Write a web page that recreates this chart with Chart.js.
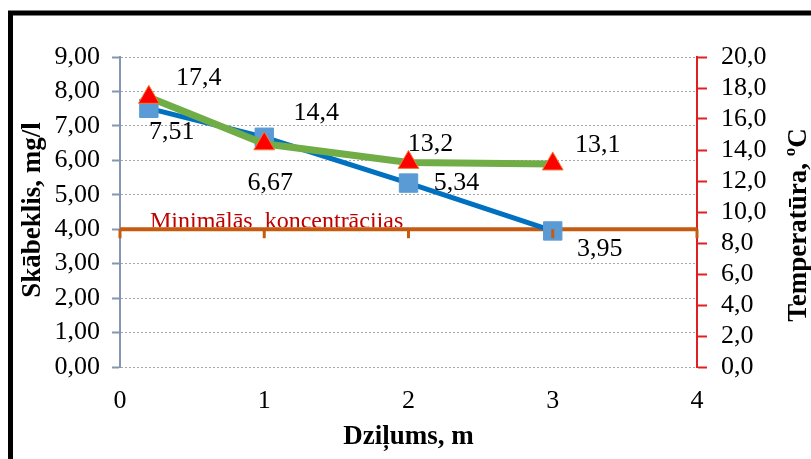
<!DOCTYPE html>
<html><head><meta charset="utf-8">
<script src="https://cdn.jsdelivr.net/npm/chart.js@4/dist/chart.umd.min.js"></script>
<style>html,body{margin:0;padding:0;background:#fff}#wrap{width:811px;height:459px;position:relative}</style>
</head><body><div id="wrap"><canvas id="c" width="811" height="459"></canvas></div>
<script>
// ---- data ----
const depths = [0.2, 1, 2, 3];
const oxygen = [7.51, 6.67, 5.34, 3.95];
const temperature = [17.4, 14.4, 13.2, 13.1];
const minDepths = [0, 1, 2, 3, 4];
const minConcentration = [4, 4, 4, 4, 4];
const leftTickLabels = ['0,00','1,00','2,00','3,00','4,00','5,00','6,00','7,00','8,00','9,00'];
const rightTickLabels = ['0,0','2,0','4,0','6,0','8,0','10,0','12,0','14,0','16,0','18,0','20,0'];
const xTickLabels = ['0','1','2','3','4'];
const oxygenLabels = ['7,51','6,67','5,34','3,95'];
const temperatureLabels = ['17,4','14,4','13,2','13,1'];
const minLabel = 'Minimālās  koncentrācijas';
const xTitle = 'Dziļums, m';
const leftTitle = 'Skābeklis, mg/l';
const rightTitle = 'Temperatūra, ';

// label offsets (style, px)
const oxyOff = [[23,24],[6,46],[48,0],[47,18]];
const tempOff = [[50,-19],[52,-31],[22,-18],[45,-19]];

const SERIF = '"Liberation Serif","Times New Roman",serif';
const F = 26;
const TF = 27;

const toXY = (xs, ys) => xs.map((x, i) => ({x, y: ys[i]}));

const extras = {
  id: 'extras',
  beforeDatasetsDraw(chart) {
    const ctx = chart.ctx, y = chart.scales.y;
    ctx.save();
    const yl = y.getPixelForValue(minConcentration[0]);
    ctx.beginPath(); ctx.rect(0, 0, 811, yl - 2); ctx.clip();
    ctx.fillStyle = '#C00000';
    ctx.font = '24px ' + SERIF;
    ctx.textBaseline = 'alphabetic';
    ctx.textAlign = 'left';
    ctx.fillText(minLabel, 150, yl - 1);
    ctx.restore();
  },
  afterDatasetsDraw(chart) {
    const ctx = chart.ctx, x = chart.scales.x, y = chart.scales.y;
    ctx.save();
    ctx.strokeStyle = '#C55A11'; ctx.lineWidth = 3;
    minDepths.forEach((d, i) => {
      const px = x.getPixelForValue(d), py = y.getPixelForValue(minConcentration[i]);
      ctx.beginPath(); ctx.moveTo(px, py); ctx.lineTo(px, py + 9); ctx.stroke();
    });
    ctx.restore();
  },
  afterDraw(chart) {
    const ctx = chart.ctx, x = chart.scales.x, y = chart.scales.y, y2 = chart.scales.y2;
    ctx.save();
    ctx.fillStyle = '#000';
    ctx.font = F + 'px ' + SERIF;
    ctx.textAlign = 'center'; ctx.textBaseline = 'middle';
    depths.forEach((d, i) => {
      const px = x.getPixelForValue(d);
      ctx.fillText(oxygenLabels[i], px + oxyOff[i][0], y.getPixelForValue(oxygen[i]) + oxyOff[i][1]);
      ctx.fillText(temperatureLabels[i], px + tempOff[i][0], y2.getPixelForValue(temperature[i]) + tempOff[i][1]);
    });
    // titles
    ctx.font = 'bold ' + TF + 'px ' + SERIF;
    ctx.fillText(xTitle, (chart.chartArea.left + chart.chartArea.right) / 2, 437);
    ctx.save();
    ctx.translate(33, 210); ctx.rotate(-Math.PI / 2);
    ctx.fillText(leftTitle, 0, 0);
    ctx.restore();
    ctx.save();
    ctx.translate(799, 225); ctx.rotate(-Math.PI / 2);
    const w1 = ctx.measureText(rightTitle).width;
    ctx.font = 'bold 17px ' + SERIF;
    const w2 = ctx.measureText('o').width;
    ctx.font = 'bold ' + TF + 'px ' + SERIF;
    const w3 = ctx.measureText('C').width;
    const tot = w1 + w2 + w3;
    ctx.textAlign = 'left';
    ctx.fillText(rightTitle, -tot / 2, 0);
    ctx.font = 'bold 17px ' + SERIF;
    ctx.fillText('o', -tot / 2 + w1, -8);
    ctx.font = 'bold ' + TF + 'px ' + SERIF;
    ctx.fillText('C', -tot / 2 + w1 + w2, 0);
    ctx.restore();
    // outer frame
    ctx.strokeStyle = '#000'; ctx.lineWidth = 5;
    ctx.strokeRect(10.5, 13, 900, 600);
    ctx.restore();
  }
};

new Chart(document.getElementById('c'), {
  type: 'scatter',
  data: {
    datasets: [
      {
        label: 'Temperatūra', data: toXY(depths, temperature), yAxisID: 'y2', showLine: true,
        borderColor: '#70AD47', borderWidth: 7, pointStyle: 'triangle', pointRadius: 12,
        pointBackgroundColor: '#FF0000', pointBorderColor: '#ED7D31', pointBorderWidth: 1, order: 1
      },
      {
        label: 'Skābeklis', data: toXY(depths, oxygen), yAxisID: 'y', showLine: true,
        borderColor: '#0070C0', borderWidth: 5, pointStyle: 'rect', pointRadius: 13,
        pointBackgroundColor: '#5B9BD5', pointBorderColor: '#5B9BD5', pointBorderWidth: 1, order: 2
      },
      {
        label: 'Minimālās koncentrācijas', data: toXY(minDepths, minConcentration), yAxisID: 'y', showLine: true,
        borderColor: '#C55A11', borderWidth: 4, pointRadius: 0, order: 3
      }
    ]
  },
  options: {
    responsive: false, animation: false,
    layout: { padding: { top: 57, left: 0, right: 0, bottom: 0 } },
    plugins: { legend: { display: false }, tooltip: { enabled: false } },
    scales: {
      x: {
        type: 'linear', min: 0, max: 4, position: 'bottom',
        afterFit: s => { s.height = 92; },
        grid: { display: true, drawOnChartArea: false, drawTicks: false },
        border: { display: false },
        ticks: { stepSize: 1, padding: 19, autoSkip: false, maxRotation: 0, color: '#000', font: { family: SERIF, size: F },
          callback: (v) => xTickLabels[Math.round(v)] }
      },
      y: {
        position: 'left', min: 0, max: 9,
        afterFit: s => { s.width = 120; },
        grid: { color: '#A6A6A6', lineWidth: 1, tickLength: 8, tickColor: '#8497B0', tickWidth: 2, tickBorderDash: [] },
        border: { display: true, color: '#8497B0', width: 2, dash: [2, 2] },
        ticks: { stepSize: 1, padding: 12, autoSkip: false, color: '#000', font: { family: SERIF, size: F },
          callback: (v) => leftTickLabels[Math.round(v)] }
      },
      y2: {
        position: 'right', min: 0, max: 20,
        afterFit: s => { s.width = 114; },
        grid: { drawOnChartArea: false, tickLength: 10, tickColor: '#E02020', tickWidth: 2 },
        border: { display: true, color: '#E02020', width: 2 },
        ticks: { stepSize: 2, padding: 14, autoSkip: false, color: '#000', font: { family: SERIF, size: F },
          callback: (v) => rightTickLabels[Math.round(v / 2)] }
      }
    }
  },
  plugins: [extras]
});
</script></body></html>
